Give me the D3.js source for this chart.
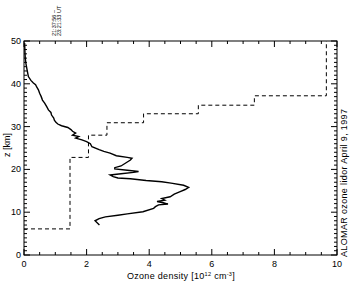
<!DOCTYPE html>
<meta charset="utf-8" />
<html>
<head>
<script src="https://d3js.org/d3.v7.min.js"></script>
<style>
  body { margin: 0; background: #fff; }
  text { font-family: "Liberation Sans", Arial, sans-serif; fill: #000; }
</style>
</head>
<body>
<svg width="352" height="281"></svg>
<script>
// Ozone profile: altitude (km) and density (10^12 cm^-3)
var profileZ = [7.0, 8.0, 8.5, 8.9, 9.3, 9.6, 10.1, 10.9, 11.3, 11.7, 11.9, 12.2, 12.5, 12.8, 13.2, 13.6,
  14.2, 14.8, 15.3, 15.8, 16.3, 16.8, 17.1, 17.4, 17.8, 18.0, 18.3, 18.7, 19.0, 19.3, 19.5, 19.8,
  20.1, 20.4, 20.8, 21.5, 22.2, 22.6, 22.8, 23.2, 23.8, 24.2, 24.6, 25.3, 26.0, 26.5, 26.9, 27.3,
  27.7, 28.0, 28.5, 28.9, 29.3, 29.8, 30.2, 30.6, 31.0, 31.5, 32.0, 32.7, 33.3, 33.9, 34.6, 35.5,
  36.2, 37.0, 37.8, 38.6, 39.2, 39.8, 40.2, 40.8, 41.7, 43.2, 44.8, 46.0, 47.5, 49.5];
var profileO3 = [2.41, 2.27, 2.4, 2.6, 3.0, 3.3, 3.8, 4.14, 4.2, 4.3, 4.6, 4.45, 4.25, 4.5, 4.4, 4.67,
  4.8, 4.99, 5.15, 5.26, 5.1, 4.7, 4.4, 3.9, 3.4, 3.0, 2.85, 2.75, 3.1, 3.5, 3.66, 3.3,
  2.9, 2.9, 3.1, 3.25, 3.4, 3.45, 3.3, 2.95, 2.75, 2.55, 2.4, 2.17, 2.12, 2.0, 1.85, 1.65,
  1.75, 1.55, 1.65, 1.55, 1.5, 1.4, 1.2, 1.08, 1.02, 0.97, 0.95, 0.88, 0.86, 0.78, 0.73, 0.66,
  0.59, 0.55, 0.50, 0.46, 0.41, 0.37, 0.30, 0.22, 0.14, 0.10, 0.06, 0.04, 0.03, 0.02];

// dashed step curve: corner points (x value, z)
var stepX = [0, 1.47, 1.47, 2.06, 2.06, 2.65, 2.65, 3.82, 3.82, 5.57, 5.57, 7.36, 7.36, 9.66, 9.66];
var stepZ = [6.1, 6.1, 22.8, 22.8, 28.0, 28.0, 30.9, 30.9, 33.0, 33.0, 35.0, 35.0, 37.2, 37.2, 50];

var xTicks = [0, 2, 4, 6, 8, 10];
var zTicks = [0, 10, 20, 30, 40, 50];
var timeLabels = ["21:37:56 \u2013", "23:21:33 UT"];

var svg = d3.select("svg");
var x = d3.scaleLinear().domain([0, 10]).range([24, 337]);
var y = d3.scaleLinear().domain([0, 50]).range([255, 41]);

// frame
svg.append("rect").attr("x", 24).attr("y", 41).attr("width", 313).attr("height", 214)
  .attr("fill", "none").attr("stroke", "#000").attr("stroke-width", 1);

var minorX = d3.range(0, 10.01, 0.5);
var minorZ = d3.range(0, 50.01, 1);

function tickLines(g, vals, isMajor, orient) {
  g.selectAll(null).data(vals).enter().append("line")
    .attr("stroke", "#000").attr("stroke-width", 1)
    .each(function(d) {
      var len = isMajor(d) ? 6 : 3;
      var s = d3.select(this);
      if (orient === "bottom") s.attr("x1", x(d)).attr("x2", x(d)).attr("y1", 255).attr("y2", 255 - len);
      if (orient === "top") s.attr("x1", x(d)).attr("x2", x(d)).attr("y1", 41).attr("y2", 41 + len);
      if (orient === "left") s.attr("y1", y(d)).attr("y2", y(d)).attr("x1", 24).attr("x2", 24 + len);
      if (orient === "right") s.attr("y1", y(d)).attr("y2", y(d)).attr("x1", 337).attr("x2", 337 - len);
    });
}
var g = svg.append("g");
tickLines(g, minorX, function(d) { return d % 2 === 0; }, "bottom");
tickLines(g, minorX, function(d) { return d % 2 === 0; }, "top");
tickLines(g, minorZ, function(d) { return d % 10 === 0; }, "left");
tickLines(g, minorZ, function(d) { return d % 10 === 0; }, "right");

svg.selectAll(".xl").data(xTicks).enter().append("text")
  .attr("x", function(d) { return x(d); }).attr("y", 267)
  .attr("text-anchor", "middle").attr("font-size", 9).text(function(d) { return d; });
svg.selectAll(".zl").data(zTicks).enter().append("text")
  .attr("x", 21).attr("y", function(d) { return y(d) + 3; })
  .attr("text-anchor", "end").attr("font-size", 9).text(function(d) { return d; });

// axis titles
var xt = svg.append("text").attr("x", 181).attr("y", 279).attr("text-anchor", "middle")
  .attr("font-size", 9).attr("letter-spacing", 0.3);
xt.append("tspan").text("Ozone density  [10");
xt.append("tspan").attr("font-size", 5.5).attr("dy", -3).text("12");
xt.append("tspan").attr("dy", 3).text(" cm");
xt.append("tspan").attr("font-size", 5.5).attr("dy", -3).text("-3");
xt.append("tspan").attr("dy", 3).text("]");

svg.append("text").attr("transform", "translate(10,145) rotate(-90)")
  .attr("text-anchor", "middle").attr("font-size", 9).text("z [km]");
svg.append("text").attr("transform", "translate(347,257) rotate(-90)")
  .attr("text-anchor", "start").attr("font-size", 9).attr("letter-spacing", 0.35)
  .text("ALOMAR ozone lidor April 9, 1997");

svg.selectAll(".tl").data(timeLabels).enter().append("text")
  .attr("transform", function(d, i) { return "translate(" + (56 + i * 5) + ",36) rotate(-90)"; })
  .attr("font-size", 5.5).text(function(d) { return d; });

// dashed step
var stepData = stepX.map(function(v, i) { return [v, stepZ[i]]; });
svg.append("path").datum(stepData)
  .attr("fill", "none").attr("stroke", "#000").attr("stroke-width", 1)
  .attr("stroke-dasharray", "4,3")
  .attr("d", d3.line().x(function(d) { return x(d[0]); }).y(function(d) { return y(d[1]); }));

// profile
var prof = profileZ.map(function(z, i) { return [profileO3[i], z]; });
svg.append("path").datum(prof)
  .attr("fill", "none").attr("stroke", "#000").attr("stroke-width", 1.4)
  .attr("d", d3.line().x(function(d) { return x(d[0]); }).y(function(d) { return y(d[1]); }));
</script>
</body>
</html>
